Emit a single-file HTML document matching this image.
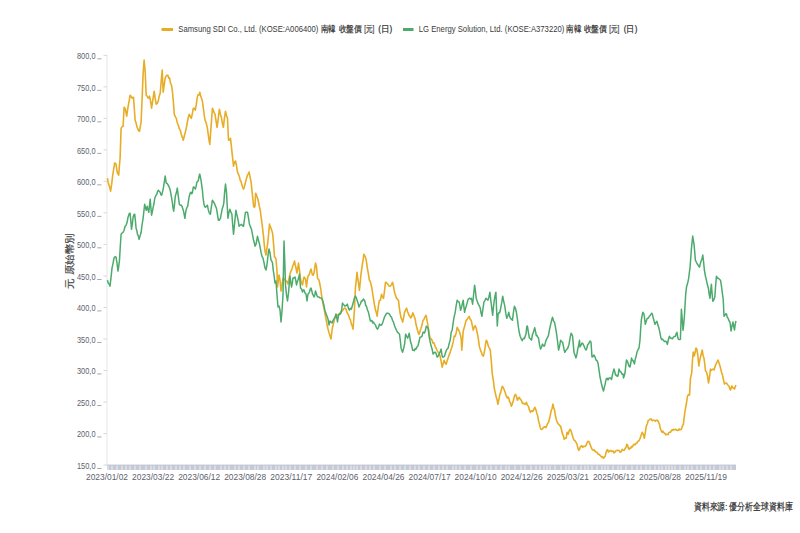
<!DOCTYPE html>
<html><head><meta charset="utf-8"><style>
html,body{margin:0;padding:0;background:#fff;width:800px;height:533px;overflow:hidden}
body{position:relative;font-family:"Liberation Sans",sans-serif}
svg{position:absolute;left:0;top:0;font-family:"Liberation Sans",sans-serif}
.yl{font-size:8.9px;fill:#5d616d}
.xl{font-size:9.1px;fill:#5d616d}
.lg{font-size:8.6px;fill:#3a3a3a}
.src{font-size:9.6px;fill:#2e2e2e;stroke:#2e2e2e;stroke-width:0.22}
.cj{fill:#2e2e2e;stroke:#2e2e2e;stroke-width:0.2}
.ytt{stroke:#444;stroke-width:0.22}
.yt{font-size:10px;fill:#444}
</style></head><body>
<svg width="800" height="533" viewBox="0 0 800 533"><rect x="161.5" y="28" width="11.5" height="3" fill="#e8ad27"/>
<rect x="403" y="28" width="10.5" height="3" fill="#4cab6c"/>
<text x="178.3" y="32.0" textLength="140.0" lengthAdjust="spacingAndGlyphs" class="lg">Samsung SDI Co., Ltd. (KOSE:A006400)</text>
<text x="320.8" y="32.0" textLength="15.0" lengthAdjust="spacingAndGlyphs" class="lg cj">南韓</text>
<text x="338.8" y="32.0" textLength="23.0" lengthAdjust="spacingAndGlyphs" class="lg cj">收盤價</text>
<text x="364.3" y="32.0" textLength="10.0" lengthAdjust="spacingAndGlyphs" class="lg cj">[元]</text>
<text x="378.3" y="32.0" textLength="14.0" lengthAdjust="spacingAndGlyphs" class="lg cj">(日)</text>
<text x="418.8" y="32.0" textLength="145.5" lengthAdjust="spacingAndGlyphs" class="lg">LG Energy Solution, Ltd. (KOSE:A373220)</text>
<text x="566.3" y="32.0" textLength="15.0" lengthAdjust="spacingAndGlyphs" class="lg cj">南韓</text>
<text x="583.8" y="32.0" textLength="23.0" lengthAdjust="spacingAndGlyphs" class="lg cj">收盤價</text>
<text x="609.3" y="32.0" textLength="10.0" lengthAdjust="spacingAndGlyphs" class="lg cj">[元]</text>
<text x="623.8" y="32.0" textLength="13.5" lengthAdjust="spacingAndGlyphs" class="lg cj">(日)</text>
<line x1="107" y1="55" x2="107" y2="465" stroke="#e6e6e6" stroke-width="1"/>
<line x1="103.5" y1="55.4" x2="107" y2="55.4" stroke="#d5d8e0" stroke-width="1"/>
<text x="77.0" y="59.0" textLength="18.5" lengthAdjust="spacingAndGlyphs" class="yl">800,0</text>
<rect x="97.2" y="58.4" width="4.3" height="0.9" fill="#9aa0ae"/>
<line x1="103.5" y1="86.9" x2="107" y2="86.9" stroke="#d5d8e0" stroke-width="1"/>
<text x="77.0" y="90.5" textLength="18.5" lengthAdjust="spacingAndGlyphs" class="yl">750,0</text>
<rect x="97.2" y="89.9" width="4.3" height="0.9" fill="#9aa0ae"/>
<line x1="103.5" y1="118.4" x2="107" y2="118.4" stroke="#d5d8e0" stroke-width="1"/>
<text x="77.0" y="122.0" textLength="18.5" lengthAdjust="spacingAndGlyphs" class="yl">700,0</text>
<rect x="97.2" y="121.4" width="4.3" height="0.9" fill="#9aa0ae"/>
<line x1="103.5" y1="149.9" x2="107" y2="149.9" stroke="#d5d8e0" stroke-width="1"/>
<text x="77.0" y="153.5" textLength="18.5" lengthAdjust="spacingAndGlyphs" class="yl">650,0</text>
<rect x="97.2" y="152.9" width="4.3" height="0.9" fill="#9aa0ae"/>
<line x1="103.5" y1="181.4" x2="107" y2="181.4" stroke="#d5d8e0" stroke-width="1"/>
<text x="77.0" y="185.0" textLength="18.5" lengthAdjust="spacingAndGlyphs" class="yl">600,0</text>
<rect x="97.2" y="184.4" width="4.3" height="0.9" fill="#9aa0ae"/>
<line x1="103.5" y1="212.9" x2="107" y2="212.9" stroke="#d5d8e0" stroke-width="1"/>
<text x="77.0" y="216.5" textLength="18.5" lengthAdjust="spacingAndGlyphs" class="yl">550,0</text>
<rect x="97.2" y="215.9" width="4.3" height="0.9" fill="#9aa0ae"/>
<line x1="103.5" y1="244.4" x2="107" y2="244.4" stroke="#d5d8e0" stroke-width="1"/>
<text x="77.0" y="248.0" textLength="18.5" lengthAdjust="spacingAndGlyphs" class="yl">500,0</text>
<rect x="97.2" y="247.4" width="4.3" height="0.9" fill="#9aa0ae"/>
<line x1="103.5" y1="276.0" x2="107" y2="276.0" stroke="#d5d8e0" stroke-width="1"/>
<text x="77.0" y="279.6" textLength="18.5" lengthAdjust="spacingAndGlyphs" class="yl">450,0</text>
<rect x="97.2" y="279.0" width="4.3" height="0.9" fill="#9aa0ae"/>
<line x1="103.5" y1="307.5" x2="107" y2="307.5" stroke="#d5d8e0" stroke-width="1"/>
<text x="77.0" y="311.1" textLength="18.5" lengthAdjust="spacingAndGlyphs" class="yl">400,0</text>
<rect x="97.2" y="310.5" width="4.3" height="0.9" fill="#9aa0ae"/>
<line x1="103.5" y1="339.0" x2="107" y2="339.0" stroke="#d5d8e0" stroke-width="1"/>
<text x="77.0" y="342.6" textLength="18.5" lengthAdjust="spacingAndGlyphs" class="yl">350,0</text>
<rect x="97.2" y="342.0" width="4.3" height="0.9" fill="#9aa0ae"/>
<line x1="103.5" y1="370.5" x2="107" y2="370.5" stroke="#d5d8e0" stroke-width="1"/>
<text x="77.0" y="374.1" textLength="18.5" lengthAdjust="spacingAndGlyphs" class="yl">300,0</text>
<rect x="97.2" y="373.5" width="4.3" height="0.9" fill="#9aa0ae"/>
<line x1="103.5" y1="402.0" x2="107" y2="402.0" stroke="#d5d8e0" stroke-width="1"/>
<text x="77.0" y="405.6" textLength="18.5" lengthAdjust="spacingAndGlyphs" class="yl">250,0</text>
<rect x="97.2" y="405.0" width="4.3" height="0.9" fill="#9aa0ae"/>
<line x1="103.5" y1="433.5" x2="107" y2="433.5" stroke="#d5d8e0" stroke-width="1"/>
<text x="77.0" y="437.1" textLength="18.5" lengthAdjust="spacingAndGlyphs" class="yl">200,0</text>
<rect x="97.2" y="436.5" width="4.3" height="0.9" fill="#9aa0ae"/>
<line x1="103.5" y1="465.0" x2="107" y2="465.0" stroke="#d5d8e0" stroke-width="1"/>
<text x="77.0" y="468.6" textLength="18.5" lengthAdjust="spacingAndGlyphs" class="yl">150,0</text>
<rect x="97.2" y="468.0" width="4.3" height="0.9" fill="#9aa0ae"/>
<rect x="107" y="465" width="629" height="5" fill="#c6cad6"/>
<rect x="107" y="464.6" width="629" height="1" fill="#c0c4d0"/>
<path d="M108.0,465.5v4.5M112.0,465.5v4.5M117.0,465.5v4.5M122.0,465.5v4.5M126.0,465.5v4.5M130.0,465.5v4.5M135.0,465.5v4.5M140.0,465.5v4.5M146.0,465.5v4.5M151.0,465.5v4.5M154.0,465.5v4.5M159.0,465.5v4.5M162.0,465.5v4.5M167.0,465.5v4.5M171.0,465.5v4.5M176.0,465.5v4.5M180.0,465.5v4.5M184.0,465.5v4.5M190.0,465.5v4.5M195.0,465.5v4.5M200.0,465.5v4.5M205.0,465.5v4.5M210.0,465.5v4.5M215.0,465.5v4.5M221.0,465.5v4.5M225.0,465.5v4.5M229.0,465.5v4.5M235.0,465.5v4.5M239.0,465.5v4.5M244.0,465.5v4.5M249.0,465.5v4.5M255.0,465.5v4.5M258.0,465.5v4.5M264.0,465.5v4.5M267.0,465.5v4.5M271.0,465.5v4.5M276.0,465.5v4.5M279.0,465.5v4.5M283.0,465.5v4.5M286.0,465.5v4.5M290.0,465.5v4.5M295.0,465.5v4.5M300.0,465.5v4.5M306.0,465.5v4.5M311.0,465.5v4.5M317.0,465.5v4.5M322.0,465.5v4.5M327.0,465.5v4.5M333.0,465.5v4.5M338.0,465.5v4.5M343.0,465.5v4.5M347.0,465.5v4.5M351.0,465.5v4.5M354.0,465.5v4.5M357.0,465.5v4.5M361.0,465.5v4.5M366.0,465.5v4.5M370.0,465.5v4.5M374.0,465.5v4.5M380.0,465.5v4.5M385.0,465.5v4.5M391.0,465.5v4.5M395.0,465.5v4.5M400.0,465.5v4.5M405.0,465.5v4.5M410.0,465.5v4.5M415.0,465.5v4.5M419.0,465.5v4.5M424.0,465.5v4.5M429.0,465.5v4.5M434.0,465.5v4.5M439.0,465.5v4.5M443.0,465.5v4.5M447.0,465.5v4.5M453.0,465.5v4.5M456.0,465.5v4.5M460.0,465.5v4.5M465.0,465.5v4.5M471.0,465.5v4.5M477.0,465.5v4.5M481.0,465.5v4.5M487.0,465.5v4.5M491.0,465.5v4.5M496.0,465.5v4.5M501.0,465.5v4.5M506.0,465.5v4.5M509.0,465.5v4.5M515.0,465.5v4.5M521.0,465.5v4.5M525.0,465.5v4.5M531.0,465.5v4.5M536.0,465.5v4.5M540.0,465.5v4.5M544.0,465.5v4.5M547.0,465.5v4.5M550.0,465.5v4.5M555.0,465.5v4.5M561.0,465.5v4.5M566.0,465.5v4.5M569.0,465.5v4.5M573.0,465.5v4.5M576.0,465.5v4.5M581.0,465.5v4.5M585.0,465.5v4.5M588.0,465.5v4.5M592.0,465.5v4.5M597.0,465.5v4.5M602.0,465.5v4.5M605.0,465.5v4.5M608.0,465.5v4.5M613.0,465.5v4.5M618.0,465.5v4.5M621.0,465.5v4.5M626.0,465.5v4.5M632.0,465.5v4.5M637.0,465.5v4.5M641.0,465.5v4.5M646.0,465.5v4.5M650.0,465.5v4.5M655.0,465.5v4.5M659.0,465.5v4.5M662.0,465.5v4.5M666.0,465.5v4.5M669.0,465.5v4.5M672.0,465.5v4.5M675.0,465.5v4.5M680.0,465.5v4.5M685.0,465.5v4.5M688.0,465.5v4.5M692.0,465.5v4.5M697.0,465.5v4.5M701.0,465.5v4.5M706.0,465.5v4.5M710.0,465.5v4.5M714.0,465.5v4.5M720.0,465.5v4.5M723.0,465.5v4.5M727.0,465.5v4.5M731.0,465.5v4.5" stroke="#eceef3" stroke-width="1"/>
<path d="M107.4,178.1 L108.2,182.4 L109.0,185.1 L109.8,187.5 L110.6,191.2 L111.6,184.7 L112.6,176.1 L113.6,169.6 L114.6,163.0 L115.3,163.3 L116.0,164.1 L116.7,168.9 L117.4,173.1 L118.7,175.1 L119.4,165.8 L120.1,158.0 L121.1,128.3 L122.1,126.6 L123.1,126.3 L124.1,107.2 L125.1,108.2 L125.9,112.0 L126.7,116.2 L127.7,109.1 L128.7,103.2 L129.4,99.6 L130.1,95.2 L131.1,96.5 L132.1,98.2 L132.8,97.4 L133.5,97.2 L134.3,108.2 L135.1,120.3 L136.1,123.1 L137.1,127.3 L137.9,129.1 L138.7,130.9 L139.5,131.3 L140.3,126.4 L141.1,122.3 L142.1,98.9 L143.1,74.1 L144.1,60.0 L145.2,72.1 L146.2,95.2 L147.2,96.2 L148.2,98.2 L148.9,97.8 L149.6,96.2 L150.6,101.6 L151.6,108.2 L152.4,102.7 L153.3,96.6 L154.2,91.2 L155.2,98.6 L156.2,104.2 L157.2,103.3 L158.2,101.2 L159.2,96.2 L160.2,93.2 L161.2,80.7 L162.2,70.1 L163.2,92.2 L164.2,85.0 L165.2,78.1 L166.2,75.9 L167.2,75.1 L168.0,75.5 L168.8,78.2 L169.6,78.1 L170.5,83.2 L171.4,85.0 L172.3,90.2 L173.3,101.0 L174.3,114.2 L175.3,116.6 L176.3,118.3 L177.3,122.8 L178.3,125.3 L179.3,128.7 L180.3,130.3 L181.0,133.3 L181.8,135.9 L182.5,137.8 L183.3,140.3 L184.3,136.3 L185.3,132.3 L186.3,128.1 L187.3,122.3 L188.3,117.3 L189.3,114.2 L190.3,116.7 L191.3,118.3 L192.3,113.8 L193.3,108.2 L194.3,108.4 L195.3,110.2 L196.3,104.4 L197.3,97.2 L198.1,94.7 L199.0,95.0 L199.8,92.2 L200.6,95.8 L201.5,98.1 L202.4,101.2 L203.4,108.9 L204.4,116.2 L205.1,120.4 L205.9,122.0 L206.6,124.6 L207.4,128.3 L208.2,134.1 L209.0,140.0 L209.8,144.4 L210.7,131.5 L211.5,120.9 L212.4,108.2 L213.3,110.0 L214.1,112.7 L215.0,114.2 L216.0,120.7 L217.0,127.3 L217.8,122.3 L218.6,115.4 L219.4,109.2 L220.4,114.4 L221.4,117.3 L222.4,123.4 L223.4,127.3 L224.4,118.4 L225.5,111.2 L226.5,115.8 L227.5,118.3 L228.5,140.3 L229.5,140.0 L230.5,138.3 L231.2,144.4 L232.0,152.4 L232.7,158.6 L233.5,166.1 L234.5,162.5 L235.5,161.0 L236.5,165.5 L237.5,172.1 L238.5,174.3 L239.5,177.1 L240.3,180.7 L241.1,181.4 L241.9,185.1 L242.7,187.3 L243.5,189.1 L244.5,186.5 L245.5,182.1 L246.5,178.3 L247.5,175.1 L248.3,174.1 L249.1,172.1 L250.1,177.3 L251.1,182.1 L252.0,190.8 L252.8,198.1 L253.6,206.2 L254.3,207.3 L255.0,206.0 L255.6,193.2 L256.6,195.4 L257.6,198.2 L258.5,202.0 L259.5,207.1 L260.3,210.7 L261.0,216.1 L261.9,222.6 L262.8,230.2 L263.5,236.2 L264.3,245.1 L265.0,251.0 L266.0,255.0 L266.8,249.1 L267.5,245.0 L268.5,235.3 L269.5,224.0 L270.2,226.6 L271.0,228.0 L271.9,230.9 L272.7,234.0 L273.6,244.4 L274.5,257.0 L275.2,257.3 L276.0,259.0 L277.0,271.0 L277.5,287.0 L278.2,282.0 L279.0,275.0 L280.0,280.0 L281.0,291.0 L282.0,285.0 L283.0,278.0 L284.0,278.8 L285.0,280.0 L285.8,281.7 L286.5,281.1 L287.2,281.9 L288.0,284.0 L289.0,278.7 L290.0,274.0 L291.0,271.1 L292.0,269.0 L292.8,265.6 L293.7,264.0 L294.5,261.0 L295.2,264.7 L296.0,268.0 L297.0,273.0 L297.8,268.1 L298.5,263.0 L299.5,270.0 L300.5,279.0 L301.5,283.0 L302.5,285.0 L303.2,280.6 L304.0,277.0 L304.8,277.8 L305.5,279.0 L306.5,287.0 L307.2,280.9 L308.0,276.0 L308.8,275.1 L309.5,274.0 L310.2,271.2 L311.0,269.0 L311.8,272.4 L312.5,275.0 L313.2,275.1 L314.0,273.0 L314.8,267.6 L315.5,263.0 L316.5,267.0 L317.5,278.0 L318.2,279.2 L319.0,280.0 L320.0,285.0 L320.8,289.0 L321.5,295.0 L322.0,298.0 L323.0,303.8 L324.0,308.0 L325.0,313.6 L326.0,319.0 L327.0,324.2 L328.0,329.0 L329.0,332.6 L330.0,336.0 L331.0,339.0 L331.8,332.1 L332.5,327.0 L333.2,324.9 L334.0,321.0 L334.8,318.3 L335.5,317.3 L336.2,316.5 L337.0,315.0 L337.8,315.5 L338.5,314.5 L339.2,314.5 L340.0,313.0 L340.8,311.9 L341.5,311.6 L342.2,311.0 L343.0,310.0 L344.0,308.4 L345.0,308.0 L346.0,309.1 L346.9,312.1 L347.7,313.7 L348.6,315.1 L349.4,318.1 L350.4,319.9 L351.4,324.1 L352.2,325.9 L353.0,329.1 L353.7,320.5 L354.4,310.1 L355.4,288.3 L356.2,280.6 L357.0,272.3 L357.7,277.9 L358.4,282.3 L359.4,290.3 L360.2,282.5 L361.0,274.3 L361.7,269.2 L362.4,264.2 L363.1,260.2 L363.8,254.2 L364.8,255.8 L365.8,258.2 L366.6,262.7 L367.4,268.3 L368.4,273.8 L369.4,280.3 L370.2,281.3 L371.0,284.3 L371.8,287.8 L372.6,293.0 L373.4,298.2 L374.4,304.5 L375.5,310.1 L376.3,312.4 L377.1,316.1 L377.8,310.9 L378.5,305.3 L379.3,300.7 L380.5,300.0 L381.5,294.4 L382.5,297.0 L383.5,298.4 L384.5,290.9 L385.5,282.3 L386.3,282.4 L387.1,283.5 L387.9,284.3 L388.9,285.9 L389.9,286.3 L390.8,285.5 L391.6,284.6 L392.5,282.3 L393.5,286.2 L394.5,292.3 L395.5,295.3 L396.5,298.4 L397.2,298.5 L397.9,300.0 L398.5,300.4 L399.1,306.1 L400.1,313.0 L401.1,318.1 L401.9,319.5 L402.6,322.1 L403.6,317.8 L404.6,312.1 L405.6,310.1 L406.6,308.1 L407.6,311.7 L408.6,314.1 L409.3,315.9 L410.0,316.3 L410.6,318.1 L411.3,317.2 L412.1,315.4 L412.8,312.7 L413.5,314.3 L414.3,316.8 L415.0,318.3 L416.0,324.3 L417.0,328.3 L418.0,332.1 L419.0,334.4 L420.0,331.2 L421.0,328.3 L422.0,325.1 L423.0,320.3 L423.8,319.7 L424.6,317.7 L425.3,316.4 L426.1,315.3 L427.1,320.7 L428.1,326.3 L429.1,333.4 L430.1,338.4 L431.1,338.7 L432.1,340.4 L432.9,343.0 L433.7,342.6 L434.5,344.4 L435.3,347.1 L436.1,348.1 L437.1,350.6 L438.1,352.1 L439.1,353.7 L440.1,356.1 L441.1,361.2 L442.1,367.2 L443.1,363.8 L444.1,360.2 L445.1,362.8 L446.1,364.2 L447.1,360.9 L448.1,358.1 L449.1,355.1 L450.2,352.1 L451.2,348.9 L452.2,346.1 L453.2,341.9 L454.2,336.1 L455.2,336.4 L456.2,332.7 L457.2,327.2 L458.2,329.5 L459.2,331.2 L460.2,334.2 L461.2,338.4 L461.8,350.1 L462.5,340.5 L463.2,331.2 L464.0,328.3 L464.7,326.0 L465.5,322.6 L466.2,320.3 L467.0,319.6 L467.7,318.4 L468.5,317.4 L469.2,316.3 L470.2,319.4 L471.2,320.3 L472.2,325.0 L473.2,330.2 L474.2,327.3 L475.2,325.7 L476.2,328.3 L477.3,333.2 L478.3,338.5 L479.3,346.1 L480.3,349.6 L481.3,352.1 L482.3,355.1 L483.3,356.1 L484.0,353.5 L484.7,350.1 L485.5,344.5 L486.3,340.2 L487.3,342.0 L488.3,346.1 L489.3,348.0 L490.3,350.1 L491.3,361.1 L492.3,374.2 L493.3,380.2 L494.3,388.3 L495.3,393.1 L496.3,397.3 L497.1,400.0 L497.9,404.3 L498.9,399.3 L499.9,394.3 L500.7,392.4 L501.5,388.9 L502.3,386.2 L503.4,388.0 L504.4,390.3 L505.4,393.3 L506.4,396.3 L507.2,398.0 L508.0,396.9 L508.8,398.3 L509.6,401.5 L510.5,403.0 L511.4,406.3 L512.4,403.6 L513.4,400.3 L514.4,396.2 L515.4,394.3 L516.4,396.2 L517.4,400.3 L518.4,398.1 L519.4,397.3 L520.3,399.5 L521.2,400.0 L522.0,402.3 L522.8,403.5 L523.6,403.2 L524.4,404.3 L525.4,404.2 L526.4,402.3 L527.4,405.3 L528.4,406.3 L529.4,409.9 L530.5,412.3 L531.3,411.3 L532.1,410.6 L532.9,411.3 L533.9,409.2 L534.9,407.3 L535.9,409.8 L536.9,413.4 L537.7,415.8 L538.6,421.1 L539.5,424.2 L540.2,427.5 L540.9,429.2 L541.8,429.4 L542.6,428.8 L543.5,427.2 L544.3,427.1 L545.0,426.7 L545.8,427.6 L546.5,426.2 L547.5,423.9 L548.5,422.2 L549.5,418.8 L550.5,414.1 L551.3,410.3 L552.1,408.5 L552.9,404.1 L553.7,407.4 L554.5,410.1 L555.5,416.3 L556.5,420.2 L557.6,423.0 L558.6,424.2 L559.6,425.5 L560.6,426.2 L561.6,430.2 L562.6,434.2 L563.4,435.9 L564.2,439.2 L565.0,438.3 L566.2,438.2 L567.0,432.3 L568.2,434.2 L569.1,431.0 L570.0,429.3 L571.0,430.8 L572.0,434.3 L573.0,437.6 L574.0,440.3 L575.0,440.6 L576.0,442.3 L576.9,443.8 L577.8,447.9 L578.7,450.3 L579.5,449.4 L580.3,446.7 L581.1,446.3 L581.8,445.7 L582.6,447.3 L583.3,446.8 L584.1,446.3 L585.1,446.5 L586.1,445.3 L587.1,442.7 L588.1,441.3 L589.1,441.7 L590.1,444.3 L591.1,447.2 L592.1,449.3 L592.9,450.0 L593.6,450.5 L594.4,449.8 L595.1,451.3 L596.1,452.1 L597.1,452.3 L598.1,454.2 L599.1,454.4 L600.1,455.3 L601.1,456.4 L601.9,457.1 L602.7,456.9 L603.5,458.4 L604.3,457.1 L605.2,456.4 L606.0,452.7 L606.8,450.3 L607.6,449.6 L608.4,452.1 L609.2,451.3 L609.9,450.8 L610.7,450.4 L611.4,451.5 L612.2,451.3 L613.0,450.9 L613.9,452.8 L614.8,452.3 L615.7,451.0 L616.7,450.6 L617.6,450.3 L618.5,450.5 L619.3,450.6 L620.2,452.3 L621.2,451.6 L622.2,449.3 L623.2,450.1 L624.2,450.3 L625.1,448.6 L626.0,447.4 L626.8,444.3 L627.6,445.1 L628.4,448.4 L629.2,449.3 L630.0,447.9 L630.8,448.2 L631.6,446.3 L632.5,446.8 L633.4,444.8 L634.3,444.3 L635.1,444.8 L636.0,443.4 L636.9,443.3 L637.7,441.4 L638.5,441.1 L639.3,440.3 L640.0,438.6 L640.8,436.3 L641.5,434.2 L642.3,432.3 L643.3,434.3 L644.3,438.3 L645.3,432.6 L646.3,426.2 L647.3,423.7 L648.3,420.2 L649.3,420.0 L650.3,419.2 L651.1,418.8 L651.8,420.2 L652.6,420.7 L653.3,420.2 L654.3,420.3 L655.3,421.2 L656.1,420.4 L656.9,420.4 L657.7,420.2 L658.6,422.4 L659.4,424.2 L660.4,428.8 L661.4,431.3 L662.1,432.4 L662.9,431.1 L663.6,432.2 L664.4,433.3 L665.1,433.7 L665.9,434.8 L666.6,434.4 L667.4,434.3 L668.1,434.6 L668.9,432.5 L669.6,432.2 L670.4,432.3 L671.1,431.1 L671.9,429.8 L672.7,430.5 L673.4,429.3 L674.2,429.6 L675.0,429.7 L675.8,429.3 L676.7,430.1 L677.6,430.4 L678.4,430.3 L679.2,428.9 L679.9,429.8 L680.7,429.6 L681.4,429.3 L682.4,426.1 L683.4,424.2 L684.4,415.6 L685.5,408.2 L686.5,403.0 L687.5,396.1 L688.5,394.6 L689.5,395.1 L690.5,378.0 L691.7,373.0 L692.5,360.0 L693.2,352.0 L694.2,356.0 L695.0,353.0 L696.0,348.0 L696.8,349.0 L697.8,355.0 L698.8,366.0 L699.8,360.0 L701.0,355.0 L702.2,350.0 L703.2,356.0 L703.9,357.8 L704.5,362.0 L705.5,371.0 L706.5,372.0 L707.5,376.0 L708.5,383.0 L709.5,377.0 L710.5,369.0 L711.1,370.4 L711.8,370.0 L713.0,369.0 L714.0,370.0 L715.0,367.0 L716.0,364.0 L717.0,362.0 L718.0,360.0 L719.0,363.0 L720.0,366.0 L721.0,370.0 L721.8,373.4 L722.5,375.0 L723.5,380.0 L724.5,384.0 L725.2,383.3 L726.0,383.0 L726.9,383.7 L727.8,385.0 L729.0,386.0 L729.8,388.7 L730.5,390.0 L731.1,388.3 L731.8,386.0 L733.0,388.0 L733.8,388.3 L734.5,389.0 L735.2,386.7 L736.0,385.0" fill="none" stroke="#e8ad27" stroke-width="1.6" stroke-linejoin="round"/>
<path d="M107.4,280.1 L108.3,283.3 L109.1,284.0 L110.0,286.1 L111.0,277.6 L112.0,268.1 L113.0,263.6 L114.0,258.0 L115.0,256.8 L116.0,257.0 L117.0,263.0 L118.0,271.1 L118.8,265.8 L119.5,260.0 L120.3,246.3 L121.1,234.3 L122.1,233.0 L123.1,232.3 L124.1,230.2 L125.1,226.3 L126.1,225.2 L127.1,222.3 L127.9,217.8 L128.7,215.2 L129.4,213.2 L130.1,213.2 L130.8,220.6 L131.5,229.3 L132.3,224.1 L133.1,217.3 L133.9,214.6 L134.7,214.2 L135.4,220.6 L136.1,228.3 L136.8,230.4 L137.5,234.3 L138.3,235.9 L139.1,239.3 L140.1,235.9 L141.1,232.3 L142.1,224.5 L143.1,218.3 L143.9,211.0 L144.7,204.2 L145.5,207.8 L146.2,210.2 L147.2,206.2 L148.0,209.8 L148.8,212.2 L149.5,205.5 L150.2,199.2 L150.9,207.9 L151.6,215.2 L152.4,211.4 L153.2,207.2 L154.0,203.5 L154.8,198.2 L155.8,195.6 L156.8,194.2 L157.5,191.8 L158.2,190.2 L159.2,191.3 L160.2,192.2 L160.9,194.7 L161.6,195.2 L162.4,192.4 L163.2,189.1 L164.2,182.6 L165.2,176.1 L166.2,183.1 L167.2,183.5 L168.2,185.1 L169.2,187.1 L170.2,190.2 L171.2,195.5 L172.3,202.2 L173.0,207.9 L173.7,211.2 L174.5,204.6 L175.3,196.2 L176.3,193.1 L177.3,188.1 L178.3,196.2 L179.3,204.2 L180.3,205.2 L181.3,205.2 L182.3,207.2 L183.3,210.2 L184.1,214.2 L184.9,218.3 L185.6,212.9 L186.3,209.2 L187.0,207.5 L187.7,206.2 L188.5,200.6 L189.3,196.2 L190.1,193.2 L190.9,192.2 L191.6,193.7 L192.3,193.2 L193.3,187.1 L194.3,187.2 L195.3,189.1 L196.1,186.4 L196.9,182.1 L197.6,181.6 L198.4,180.1 L199.1,176.1 L199.8,174.1 L201.0,180.1 L201.7,185.1 L202.4,190.2 L203.1,197.9 L203.8,203.2 L204.6,206.4 L205.4,207.2 L206.4,206.4 L207.4,205.2 L208.2,209.4 L209.0,212.2 L209.7,213.7 L210.4,214.2 L211.4,206.7 L212.4,200.2 L213.4,201.8 L214.4,203.2 L215.4,205.9 L216.4,208.2 L217.4,214.0 L218.4,220.3 L219.4,220.0 L220.4,218.3 L221.4,213.1 L222.4,208.2 L223.1,206.3 L223.8,203.2 L224.6,192.6 L225.5,184.1 L226.5,192.2 L227.2,205.1 L227.9,218.3 L228.9,212.6 L229.9,209.2 L230.9,212.1 L231.9,214.2 L232.7,225.2 L233.5,234.3 L234.3,226.4 L235.1,218.4 L235.9,210.2 L236.7,214.0 L237.5,217.3 L238.3,221.1 L239.1,226.3 L239.9,225.3 L240.7,225.1 L241.5,224.3 L242.5,225.6 L243.5,226.3 L244.5,219.0 L245.5,212.2 L246.5,212.2 L247.5,212.2 L248.5,217.8 L249.5,224.3 L250.5,226.9 L251.5,229.3 L252.6,235.2 L253.6,240.3 L254.3,242.8 L255.0,246.2 L256.0,244.4 L256.7,240.7 L257.5,236.2 L258.3,240.0 L259.0,242.2 L259.6,244.4 L260.3,248.4 L261.0,252.2 L262.0,256.4 L263.0,258.2 L264.0,262.7 L265.0,268.0 L266.0,270.0 L266.8,266.0 L267.5,260.0 L268.2,253.7 L269.0,249.0 L270.0,253.0 L271.0,260.0 L271.8,261.2 L272.5,263.0 L273.2,269.8 L274.0,275.0 L275.0,283.0 L276.0,281.0 L277.0,295.0 L278.0,307.0 L279.0,306.0 L280.0,310.0 L281.0,322.0 L282.0,311.0 L283.0,295.0 L284.0,241.0 L284.8,261.9 L285.5,285.0 L286.5,295.0 L287.5,301.0 L288.5,293.0 L289.2,284.8 L290.0,276.0 L290.8,282.4 L291.5,287.0 L292.2,283.6 L293.0,278.0 L294.0,277.9 L295.0,277.0 L295.8,280.6 L296.5,285.0 L297.2,282.1 L298.0,280.0 L298.8,277.3 L299.5,274.0 L300.5,288.0 L301.5,289.0 L302.5,292.0 L303.2,289.9 L304.0,290.0 L305.0,292.9 L306.0,294.0 L307.0,301.0 L308.0,294.0 L308.8,293.3 L309.5,292.0 L310.2,289.2 L311.0,288.0 L311.8,290.8 L312.5,294.0 L313.2,295.0 L314.0,297.0 L314.8,294.9 L315.5,291.0 L316.2,293.0 L317.0,296.0 L318.0,297.0 L319.0,297.0 L320.0,298.1 L321.0,298.0 L321.8,298.6 L322.5,300.0 L323.2,302.4 L324.0,306.0 L325.0,311.0 L325.8,313.1 L326.5,315.0 L327.2,316.8 L328.0,319.0 L329.0,325.0 L330.0,321.0 L331.0,322.2 L332.0,323.0 L333.0,320.6 L334.0,319.0 L335.0,317.2 L336.0,314.0 L336.8,317.8 L337.5,322.0 L338.2,317.1 L339.0,314.0 L340.0,314.2 L341.0,313.0 L341.8,308.9 L342.5,303.0 L343.2,304.4 L344.0,305.0 L344.9,306.1 L345.7,305.5 L346.5,305.6 L347.3,304.1 L348.4,308.1 L349.4,310.1 L350.4,308.4 L351.4,309.1 L352.4,305.5 L353.4,302.0 L354.4,297.9 L355.4,296.0 L356.2,297.6 L357.0,300.0 L358.0,302.9 L359.0,307.1 L359.8,305.0 L360.6,303.5 L361.4,301.0 L362.4,300.9 L363.4,299.0 L364.2,300.2 L364.9,301.4 L365.7,305.5 L366.4,306.1 L367.4,309.7 L368.4,312.1 L369.4,316.7 L370.4,321.1 L371.2,320.4 L371.9,320.5 L372.7,322.9 L373.4,322.1 L374.4,323.7 L375.5,325.1 L376.5,328.0 L377.5,329.1 L378.5,327.3 L379.5,324.1 L380.5,325.2 L381.5,325.1 L382.5,323.4 L383.5,320.1 L384.5,317.0 L385.5,315.1 L386.5,313.5 L387.5,313.1 L388.5,313.4 L389.5,314.1 L390.5,316.2 L391.5,317.1 L392.5,320.3 L393.5,322.1 L394.5,325.7 L395.5,328.1 L396.5,330.3 L397.5,332.2 L398.5,333.1 L399.5,334.2 L400.3,340.5 L401.1,348.2 L401.9,350.6 L402.6,352.2 L403.6,348.6 L404.6,344.2 L405.6,334.2 L406.6,336.2 L407.6,338.2 L408.4,336.2 L409.2,333.2 L410.0,338.4 L410.7,342.4 L411.4,344.1 L412.6,350.2 L413.6,350.1 L414.4,350.8 L415.2,348.5 L416.0,349.1 L417.0,346.9 L418.0,345.7 L419.0,341.8 L420.0,337.2 L421.0,337.1 L422.0,336.1 L423.0,332.3 L423.8,332.2 L424.5,333.0 L425.4,330.6 L426.3,326.2 L427.2,327.1 L428.1,328.2 L429.1,336.1 L430.1,341.7 L431.1,346.1 L432.1,349.0 L433.1,354.1 L434.1,352.6 L435.1,352.1 L436.1,353.5 L437.1,357.1 L438.1,356.3 L439.1,354.1 L440.1,351.7 L441.1,349.1 L441.8,354.2 L442.5,357.1 L443.5,356.9 L444.5,356.1 L445.5,352.7 L446.5,350.1 L447.3,348.8 L448.1,348.1 L449.1,343.8 L450.2,340.1 L451.2,332.3 L452.2,330.0 L453.2,322.3 L454.2,316.6 L455.2,312.3 L456.2,305.3 L457.2,300.2 L458.2,301.6 L459.2,302.2 L459.9,305.8 L460.6,310.3 L461.8,306.2 L462.5,303.1 L463.2,300.2 L463.9,306.8 L464.6,312.3 L465.4,308.7 L466.2,306.2 L467.2,302.6 L468.2,299.2 L469.0,298.5 L469.7,298.3 L470.5,298.9 L471.2,298.2 L471.9,300.3 L472.6,304.2 L473.6,294.5 L474.6,285.2 L475.4,290.8 L476.2,298.2 L477.3,301.6 L478.3,304.2 L479.3,305.8 L480.3,308.3 L481.1,313.4 L481.9,316.3 L482.9,309.2 L483.9,302.2 L484.9,300.6 L485.9,298.2 L486.9,299.3 L487.9,300.2 L488.9,297.0 L489.9,292.2 L490.6,298.7 L491.3,304.2 L492.0,310.1 L492.7,315.3 L493.5,306.6 L494.3,300.2 L495.1,295.4 L495.9,292.2 L496.6,309.7 L497.3,326.0 L498.1,314.3 L498.9,312.7 L499.6,312.7 L500.3,310.3 L501.1,305.9 L501.9,301.7 L502.7,296.2 L503.8,301.8 L504.8,306.2 L505.8,313.4 L506.8,318.3 L507.8,315.7 L508.8,312.3 L509.6,316.3 L510.4,318.3 L511.4,319.1 L512.4,320.3 L513.4,312.7 L514.4,306.2 L515.4,308.3 L516.4,312.3 L517.4,319.1 L518.4,327.2 L519.3,332.6 L520.2,336.2 L521.2,338.8 L522.2,340.7 L523.0,339.0 L523.7,338.3 L524.4,338.7 L525.2,336.3 L526.0,334.1 L526.8,326.3 L527.4,326.0 L528.4,332.3 L529.4,338.1 L530.1,338.4 L530.8,339.3 L531.5,340.1 L532.5,334.4 L533.5,332.0 L534.7,327.7 L535.5,331.4 L536.3,335.7 L537.0,335.4 L537.7,336.8 L538.5,338.2 L539.5,344.6 L540.5,349.1 L541.5,347.1 L542.5,344.1 L543.5,345.9 L544.5,346.1 L545.5,342.1 L546.5,339.2 L547.5,337.6 L548.5,335.2 L549.5,329.5 L550.5,325.2 L551.5,320.8 L552.5,317.3 L553.5,320.9 L554.5,322.3 L555.4,326.6 L556.3,332.2 L557.1,337.7 L557.8,343.5 L558.6,350.1 L559.6,346.1 L560.6,340.2 L561.6,341.6 L562.6,342.1 L563.3,345.7 L564.1,349.7 L564.8,352.3 L565.8,350.7 L566.8,349.2 L567.5,348.6 L568.3,346.6 L569.0,344.4 L570.0,338.4 L571.0,333.3 L571.8,334.2 L572.6,336.3 L573.3,344.4 L574.0,352.4 L575.0,355.0 L576.0,357.9 L576.9,354.2 L577.7,349.5 L578.6,345.3 L579.5,340.3 L580.0,347.0 L581.0,345.2 L582.0,343.0 L583.0,343.9 L584.0,346.0 L585.0,348.6 L586.0,350.0 L586.8,348.7 L587.5,345.0 L588.2,344.3 L589.0,343.0 L590.0,341.0 L591.0,342.0 L592.0,357.0 L593.0,356.5 L594.0,355.0 L595.0,356.9 L596.0,360.0 L597.0,360.6 L598.0,363.0 L599.0,369.9 L600.0,377.0 L600.8,380.7 L601.5,384.0 L602.5,388.0 L603.5,391.0 L604.2,387.8 L605.0,384.9 L605.8,380.6 L606.5,378.5 L607.2,378.2 L608.0,380.0 L609.0,378.1 L610.0,378.0 L610.8,378.3 L611.5,379.5 L612.3,375.4 L613.2,371.6 L614.0,369.0 L614.8,371.6 L615.5,375.0 L616.3,374.9 L617.2,376.4 L618.0,376.0 L619.0,369.0 L620.0,371.5 L621.0,372.0 L622.0,374.2 L623.0,374.0 L623.5,378.0 L624.2,376.1 L625.0,373.0 L625.8,365.3 L626.5,360.0 L627.2,360.9 L628.0,363.0 L629.0,366.2 L630.0,367.0 L630.8,363.0 L631.5,358.0 L632.2,360.4 L633.0,360.3 L633.8,361.9 L634.5,364.0 L635.3,359.0 L636.2,356.1 L637.0,352.0 L638.0,349.7 L639.0,348.0 L640.0,340.0 L640.6,330.1 L641.3,320.3 L642.1,315.4 L642.9,312.2 L643.6,313.1 L644.3,316.2 L645.3,324.3 L646.3,321.0 L647.3,318.3 L648.3,318.3 L649.3,316.2 L650.1,315.6 L650.9,314.4 L651.7,313.2 L652.5,314.7 L653.3,318.3 L654.1,321.1 L654.9,324.3 L655.9,322.5 L656.9,321.3 L657.9,325.1 L659.0,328.3 L660.0,333.1 L661.0,338.3 L661.8,339.7 L662.6,339.1 L663.4,340.3 L664.4,341.4 L665.4,341.3 L666.4,341.7 L667.4,344.4 L668.4,339.5 L669.4,336.3 L670.4,338.0 L671.4,338.3 L672.4,338.7 L673.4,337.3 L674.4,336.4 L675.4,336.3 L676.2,333.6 L677.0,332.3 L677.7,336.9 L678.4,339.3 L679.4,339.6 L680.4,339.3 L681.4,309.2 L682.2,318.8 L683.0,330.3 L683.7,324.4 L684.4,316.2 L685.7,294.2 L686.5,287.1 L687.3,284.2 L688.0,281.6 L688.6,278.7 L689.4,272.4 L690.1,267.1 L691.3,250.1 L692.0,243.1 L692.7,236.1 L694.0,244.1 L694.7,251.8 L695.4,260.2 L696.4,262.3 L697.4,264.2 L698.4,265.5 L699.4,267.2 L700.4,263.4 L701.4,260.2 L702.1,258.2 L702.8,255.1 L703.6,262.2 L704.4,270.2 L705.4,276.0 L706.4,280.2 L707.4,284.8 L708.4,288.3 L709.2,294.3 L710.0,298.3 L710.7,290.4 L711.4,284.2 L712.1,293.6 L712.8,301.3 L713.8,299.8 L714.8,297.3 L715.6,286.0 L716.4,276.2 L717.4,278.2 L718.4,278.2 L719.4,279.2 L720.5,280.2 L721.5,286.5 L722.5,294.3 L723.2,299.0 L724.0,316.2 L725.0,315.0 L725.8,313.8 L726.5,314.0 L727.2,317.2 L728.0,318.0 L729.0,320.7 L730.0,322.0 L731.0,331.0 L732.0,325.9 L733.0,322.0 L733.8,326.9 L734.5,330.0 L735.2,324.4 L736.0,321.0" fill="none" stroke="#4cab6c" stroke-width="1.5" stroke-linejoin="round"/>
<text x="86.0" y="480.3" textLength="42.0" lengthAdjust="spacingAndGlyphs" class="xl">2023/01/02</text>
<text x="132.1" y="480.3" textLength="42.0" lengthAdjust="spacingAndGlyphs" class="xl">2023/03/22</text>
<text x="178.2" y="480.3" textLength="42.0" lengthAdjust="spacingAndGlyphs" class="xl">2023/06/12</text>
<text x="224.2" y="480.3" textLength="42.0" lengthAdjust="spacingAndGlyphs" class="xl">2023/08/28</text>
<text x="270.3" y="480.3" textLength="42.0" lengthAdjust="spacingAndGlyphs" class="xl">2023/11/17</text>
<text x="316.4" y="480.3" textLength="42.0" lengthAdjust="spacingAndGlyphs" class="xl">2024/02/06</text>
<text x="362.5" y="480.3" textLength="42.0" lengthAdjust="spacingAndGlyphs" class="xl">2024/04/26</text>
<text x="408.6" y="480.3" textLength="42.0" lengthAdjust="spacingAndGlyphs" class="xl">2024/07/17</text>
<text x="454.6" y="480.3" textLength="42.0" lengthAdjust="spacingAndGlyphs" class="xl">2024/10/10</text>
<text x="500.7" y="480.3" textLength="42.0" lengthAdjust="spacingAndGlyphs" class="xl">2024/12/26</text>
<text x="546.8" y="480.3" textLength="42.0" lengthAdjust="spacingAndGlyphs" class="xl">2025/03/21</text>
<text x="592.9" y="480.3" textLength="42.0" lengthAdjust="spacingAndGlyphs" class="xl">2025/06/12</text>
<text x="639.0" y="480.3" textLength="42.0" lengthAdjust="spacingAndGlyphs" class="xl">2025/08/28</text>
<text x="685.0" y="480.3" textLength="42.0" lengthAdjust="spacingAndGlyphs" class="xl">2025/11/19</text>
<text x="693.8" y="510.2" textLength="98.7" lengthAdjust="spacingAndGlyphs" class="src">資料來源: 優分析全球資料庫</text>
<text transform="translate(73.2,288.5) rotate(-90)" x="0" y="0" class="yt ytt" textLength="55.5" lengthAdjust="spacingAndGlyphs">元 原始幣別</text></svg>
</body></html>
